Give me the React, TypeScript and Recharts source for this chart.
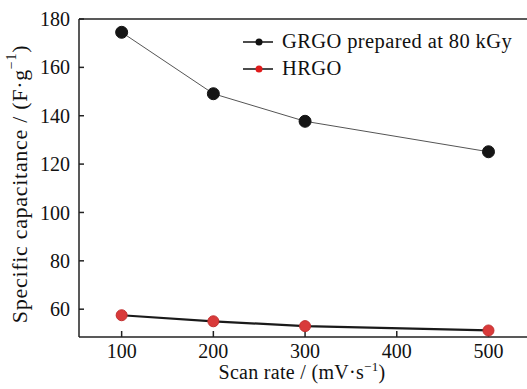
import React from 'react';
import {
  LineChart,
  Line,
  XAxis,
  YAxis,
  ReferenceLine,
} from 'recharts';

// scan rates in mV/s
const scanRates = [100, 200, 300, 500];
// specific capacitance in F/g
const grgoValues = [174.5, 149.1, 137.7, 125.1];
const hrgoValues = [57.5, 55.0, 53.0, 51.2];

const xTicks = [100, 200, 300, 400, 500];
const yTicks = [60, 80, 100, 120, 140, 160, 180];

const seriesNames = ['GRGO prepared at 80 kGy', 'HRGO'];

const data = scanRates.map((rate, i) => ({
  rate,
  grgo: grgoValues[i],
  hrgo: hrgoValues[i],
}));

const FONT = 'Liberation Serif, serif';
const AXIS = '#222';

const legendItems = [
  { name: seriesNames[0], dot: '#111', line: '#111' },
  { name: seriesNames[1], dot: '#e01b1b', line: '#111' },
];

function ChartLegend() {
  return (
    <div
      style={{
        position: 'absolute',
        left: 243,
        top: 28,
        fontFamily: FONT,
        fontSize: 20.5,
        letterSpacing: 0.4,
        color: '#111',
        lineHeight: '27px',
      }}
    >
      {legendItems.map((item) => (
        <div key={item.name} style={{ display: 'flex', alignItems: 'center', height: 27 }}>
          <svg width={30} height={12} style={{ marginRight: 9 }}>
            <line x1={0} y1={6} x2={30} y2={6} stroke={item.line} strokeWidth={1.5} />
            <circle cx={16} cy={6} r={3.5} fill={item.dot} />
          </svg>
          <span>{item.name}</span>
        </div>
      ))}
    </div>
  );
}

function XTick({ x, y, payload }: any) {
  return (
    <text x={x} y={y} dy="0.71em" textAnchor="middle" fontFamily={FONT} fontSize={20} fill="#111">
      {payload.value}
    </text>
  );
}

function YTick({ x, y, payload }: any) {
  return (
    <text x={x} y={y} dy="0.355em" textAnchor="end" fontFamily={FONT} fontSize={20} fill="#111">
      {payload.value}
    </text>
  );
}

function YTitle() {
  const cx = 19;
  const cy = 184;
  return (
    <text
      x={cx}
      y={cy}
      transform={`rotate(-90, ${cx}, ${cy})`}
      textAnchor="middle"
      dominantBaseline="central"
      fontFamily={FONT}
      fontSize={22}
      letterSpacing={0.7}
      fill="#111"
    >
      Specific capacitance / (F·g
      <tspan dy={-8} fontSize={14}>−1</tspan>
      <tspan dy={8}>)</tspan>
    </text>
  );
}

function XTitle() {
  return (
    <text
      x={302}
      y={379}
      textAnchor="middle"
      fontFamily={FONT}
      fontSize={20}
      letterSpacing={0.3}
      fill="#111"
    >
      Scan rate / (mV·s
      <tspan dy={-8} fontSize={13}>−1</tspan>
      <tspan dy={8}>)</tspan>
    </text>
  );
}

export default function App() {
  return (
    <div style={{ position: 'absolute', left: 0, top: 0, width: 527, height: 389, background: '#fff' }}>
      <LineChart
        width={527}
        height={389}
        data={data}
        margin={{ top: 19, right: 0, left: 0, bottom: 0 }}
      >
        <XAxis
          dataKey="rate"
          type="number"
          domain={[53.5, 542]}
          ticks={xTicks}
          allowDataOverflow
          height={52}
          tickSize={-6}
          tickMargin={13}
          tick={<XTick />}
          tickLine={{ stroke: AXIS, strokeWidth: 1.5 }}
          axisLine={{ stroke: AXIS, strokeWidth: 1.5 }}
          label={<XTitle />}
        />
        <YAxis
          type="number"
          domain={[48.5, 180]}
          ticks={yTicks}
          allowDataOverflow
          width={79}
          tickSize={-5}
          tickMargin={14}
          tick={<YTick />}
          tickLine={{ stroke: AXIS, strokeWidth: 1.5 }}
          axisLine={{ stroke: AXIS, strokeWidth: 1.5 }}
          label={<YTitle />}
        />
        <ReferenceLine y={180} stroke={AXIS} strokeWidth={1.5} />
        <Line
          dataKey="grgo"
          name={seriesNames[0]}
          stroke="#555"
          strokeWidth={1}
          dot={{ r: 6, fill: '#151515', stroke: '#151515', strokeWidth: 1 }}
          isAnimationActive={false}
        />
        <Line
          dataKey="hrgo"
          name={seriesNames[1]}
          stroke="#1a1a1a"
          strokeWidth={2.2}
          dot={{ r: 5.5, fill: '#d93a3a', stroke: '#c23030', strokeWidth: 1 }}
          isAnimationActive={false}
        />
      </LineChart>
      <ChartLegend />
    </div>
  );
}
